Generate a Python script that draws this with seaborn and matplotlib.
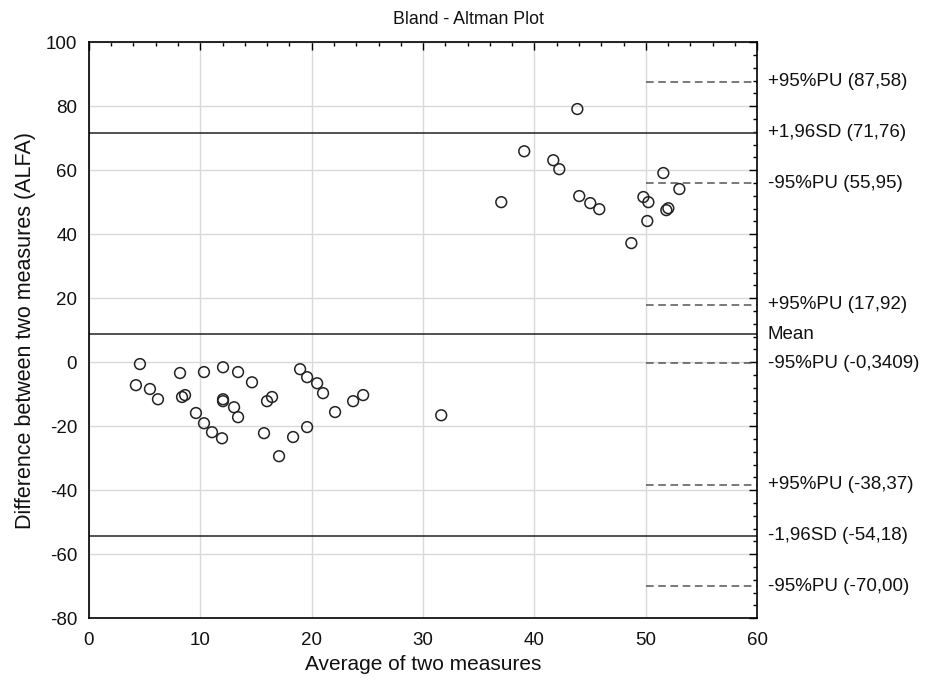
import matplotlib
matplotlib.use("Agg")
import matplotlib.pyplot as plt
import seaborn as sns
import pandas as pd
from matplotlib.ticker import MultipleLocator

# ---- data ----
avg_x = [4.58, 4.22, 5.48, 6.20, 8.18, 8.36, 8.63, 9.61, 10.33, 10.33, 11.05, 11.95,
         12.04, 12.04, 12.04, 13.03, 13.39, 13.39, 14.64, 15.72, 15.99, 16.44, 17.07,
         18.33, 18.96, 19.59, 19.59, 20.49, 21.02, 22.10, 23.72, 24.62, 31.63,
         43.85, 39.08, 41.69, 42.23, 37.02, 44.02, 45.01, 45.82, 48.70, 49.78, 50.23,
         50.13, 51.57, 53.01, 51.84, 52.02]
diff_y = [-0.6, -7.2, -8.4, -11.6, -3.4, -10.9, -10.3, -15.9, -3.1, -19.1, -21.9, -23.8,
          -1.6, -11.6, -12.2, -14.1, -3.1, -17.2, -6.3, -22.2, -12.2, -10.9, -29.4,
          -23.4, -2.2, -4.7, -20.3, -6.6, -9.7, -15.6, -12.2, -10.3, -16.6,
          79.1, 65.9, 63.1, 60.3, 50.0, 51.9, 49.7, 47.8, 37.2, 51.6, 50.0,
          44.1, 59.1, 54.1, 47.5, 48.1]

solid_values = [71.76, 8.79, -54.18]
solid_labels = ["+1,96SD (71,76)", "Mean", "-1,96SD (-54,18)"]
dashed_values = [87.58, 55.95, 17.92, -0.3409, -38.37, -70.00]
dashed_labels = ["+95%PU (87,58)", "-95%PU (55,95)", "+95%PU (17,92)",
                 "-95%PU (-0,3409)", "+95%PU (-38,37)", "-95%PU (-70,00)"]
dashed_start = 50

x_ticks = [0, 10, 20, 30, 40, 50, 60]
y_ticks = [-80, -60, -40, -20, 0, 20, 40, 60, 80, 100]

# ---- style ----
sns.set_theme(style="white")
plt.rcParams["font.family"] = ["Liberation Sans", "DejaVu Sans"]
plt.rcParams["axes.unicode_minus"] = False

fig = plt.figure(figsize=(9.36, 6.8), dpi=100)
ax = fig.add_axes([0.095, 0.091, 0.714, 0.847])

df = pd.DataFrame({"avg": avg_x, "diff": diff_y})
sns.scatterplot(data=df, x="avg", y="diff", ax=ax, s=60, marker="o",
                facecolor="none", edgecolor="#222222", linewidth=1.1, zorder=3)

ax.set_xlim(0, 60)
ax.set_ylim(-80, 100)
ax.set_xticks(x_ticks)
ax.set_yticks(y_ticks)
ax.xaxis.set_minor_locator(MultipleLocator(2))
ax.yaxis.set_minor_locator(MultipleLocator(4))
ax.grid(True, which="major", color="#d9d9d9", linewidth=1.0, zorder=0)
ax.set_axisbelow(True)

ax.tick_params(axis="both", which="both", direction="in", top=True, right=True,
               colors="black", labelsize=13.5, labelcolor="#111111")
ax.tick_params(which="major", length=6, width=1)
ax.tick_params(which="minor", length=3, width=1)
ax.tick_params(axis="x", which="major", pad=10)
ax.tick_params(axis="y", which="major", pad=8.5, right=True, labelright=False)
for sp in ax.spines.values():
    sp.set_color("black")
    sp.set_linewidth(1.2)

for v in solid_values:
    ax.axhline(v, color="#333333", linewidth=1.2, zorder=2)
ax.hlines(dashed_values, dashed_start, 60, colors="#555555", linestyles=(0, (5, 3)),
          linewidth=1.1, zorder=2)

trans = ax.get_yaxis_transform()
for v, lab in zip(solid_values + dashed_values, solid_labels + dashed_labels):
    ax.text(1.016, v, lab, transform=trans, ha="left", va="center",
            fontsize=13.5, color="#111111", clip_on=False)

ax.set_xlabel("Average of two measures", fontsize=15, color="#111111", labelpad=4)
ax.set_ylabel("Difference between two measures (ALFA)", fontsize=15.5, color="#111111",
              labelpad=7)
fig.text(0.5, 1 - 20 / 680, "Bland - Altman Plot", ha="center", va="center",
         fontsize=12.8, color="#111111")

fig.savefig("out.png", dpi=100, facecolor="white")
